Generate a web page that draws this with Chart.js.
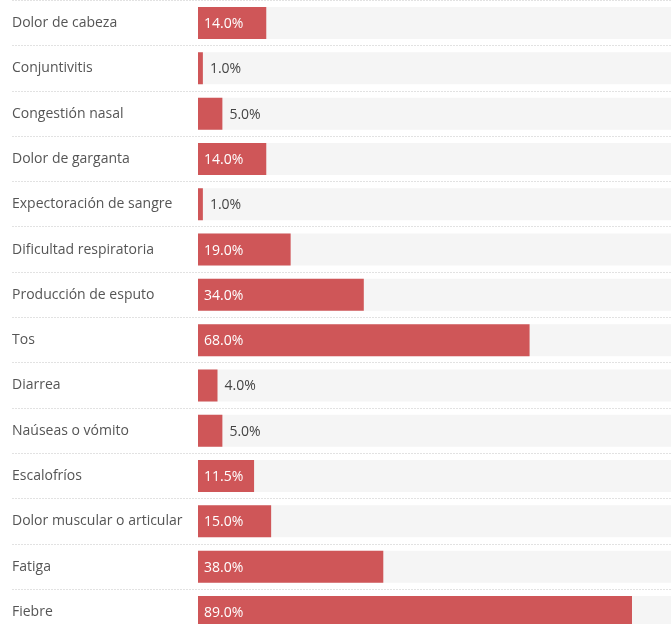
<!DOCTYPE html>
<html>
<head>
<meta charset="utf-8">
<script src="https://cdn.jsdelivr.net/npm/chart.js@4/dist/chart.umd.min.js"></script>
<style>
  html, body { margin: 0; padding: 0; background: #ffffff; overflow: hidden; }
  #outer { position: relative; width: 671px; height: 624px; overflow: hidden; }
  #wrap { position: absolute; left: 0; top: -8px; width: 671px; height: 651px; }
</style>
</head>
<body>
<div id="outer"><div id="wrap"><canvas id="c"></canvas></div></div>
<script>
const categories = [
  "Dolor de cabeza",
  "Conjuntivitis",
  "Congestión nasal",
  "Dolor de garganta",
  "Expectoración de sangre",
  "Dificultad respiratoria",
  "Producción de esputo",
  "Tos",
  "Diarrea",
  "Naúseas o vómito",
  "Escalofríos",
  "Dolor muscular o articular",
  "Fatiga",
  "Fiebre"
];
const percentages = [14.0, 1.0, 5.0, 14.0, 1.0, 19.0, 34.0, 68.0, 4.0, 5.0, 11.5, 15.0, 38.0, 89.0];
const X_MAX = 97;
const trackValues = categories.map(() => X_MAX);

const BAR_COLOR = "#cf5658";
const TRACK_COLOR = "#f5f5f5";
const FONT = "'Open Sans', sans-serif";

const valueLabels = {
  id: "valueLabels",
  afterDatasetsDraw(chart) {
    const ctx = chart.ctx;
    const meta = chart.getDatasetMeta(0);
    ctx.save();
    ctx.font = "14px " + FONT;
    ctx.textBaseline = "middle";
    ctx.textAlign = "left";
    meta.data.forEach((bar, i) => {
      const txt = percentages[i].toFixed(1) + "%";
      const w = ctx.measureText(txt).width;
      const barW = bar.x - bar.base;
      if (barW > w + 12) {
        ctx.fillStyle = "#ffffff";
        ctx.fillText(txt, bar.base + 6, bar.y + 1);
      } else {
        ctx.fillStyle = "#444444";
        ctx.fillText(txt, bar.x + 7, bar.y + 1);
      }
    });
    ctx.restore();
  }
};

new Chart(document.getElementById("c"), {
  type: "bar",
  data: {
    labels: categories,
    datasets: [
      {
        data: percentages,
        backgroundColor: BAR_COLOR,
        grouped: false,
        categoryPercentage: 1,
        barPercentage: 0.706,
        order: 1
      },
      {
        data: trackValues,
        backgroundColor: TRACK_COLOR,
        grouped: false,
        categoryPercentage: 1,
        barPercentage: 0.706,
        order: 2
      }
    ]
  },
  options: {
    indexAxis: "y",
    responsive: true,
    maintainAspectRatio: false,
    animation: false,
    layout: { padding: { left: 12, right: 0, top: 0, bottom: 0 } },
    plugins: {
      legend: { display: false },
      tooltip: { enabled: false }
    },
    scales: {
      x: {
        display: false,
        min: 0,
        max: X_MAX
      },
      y: {
        offset: true,
        afterFit(scale) { scale.width = 186; },
        border: { display: false, dash: [2, 1] },
        grid: {
          offset: true,
          color: "#e2e2e2",
          lineWidth: 1,
          drawTicks: true,
          tickLength: 186,
          tickBorderDash: [2, 1],
          tickColor: "#e2e2e2"
        },
        ticks: {
          crossAlign: "far",
          color: "#555555",
          padding: 0,
          font: { family: FONT, size: 14 }
        }
      }
    }
  },
  plugins: [valueLabels]
});
</script>
</body>
</html>
